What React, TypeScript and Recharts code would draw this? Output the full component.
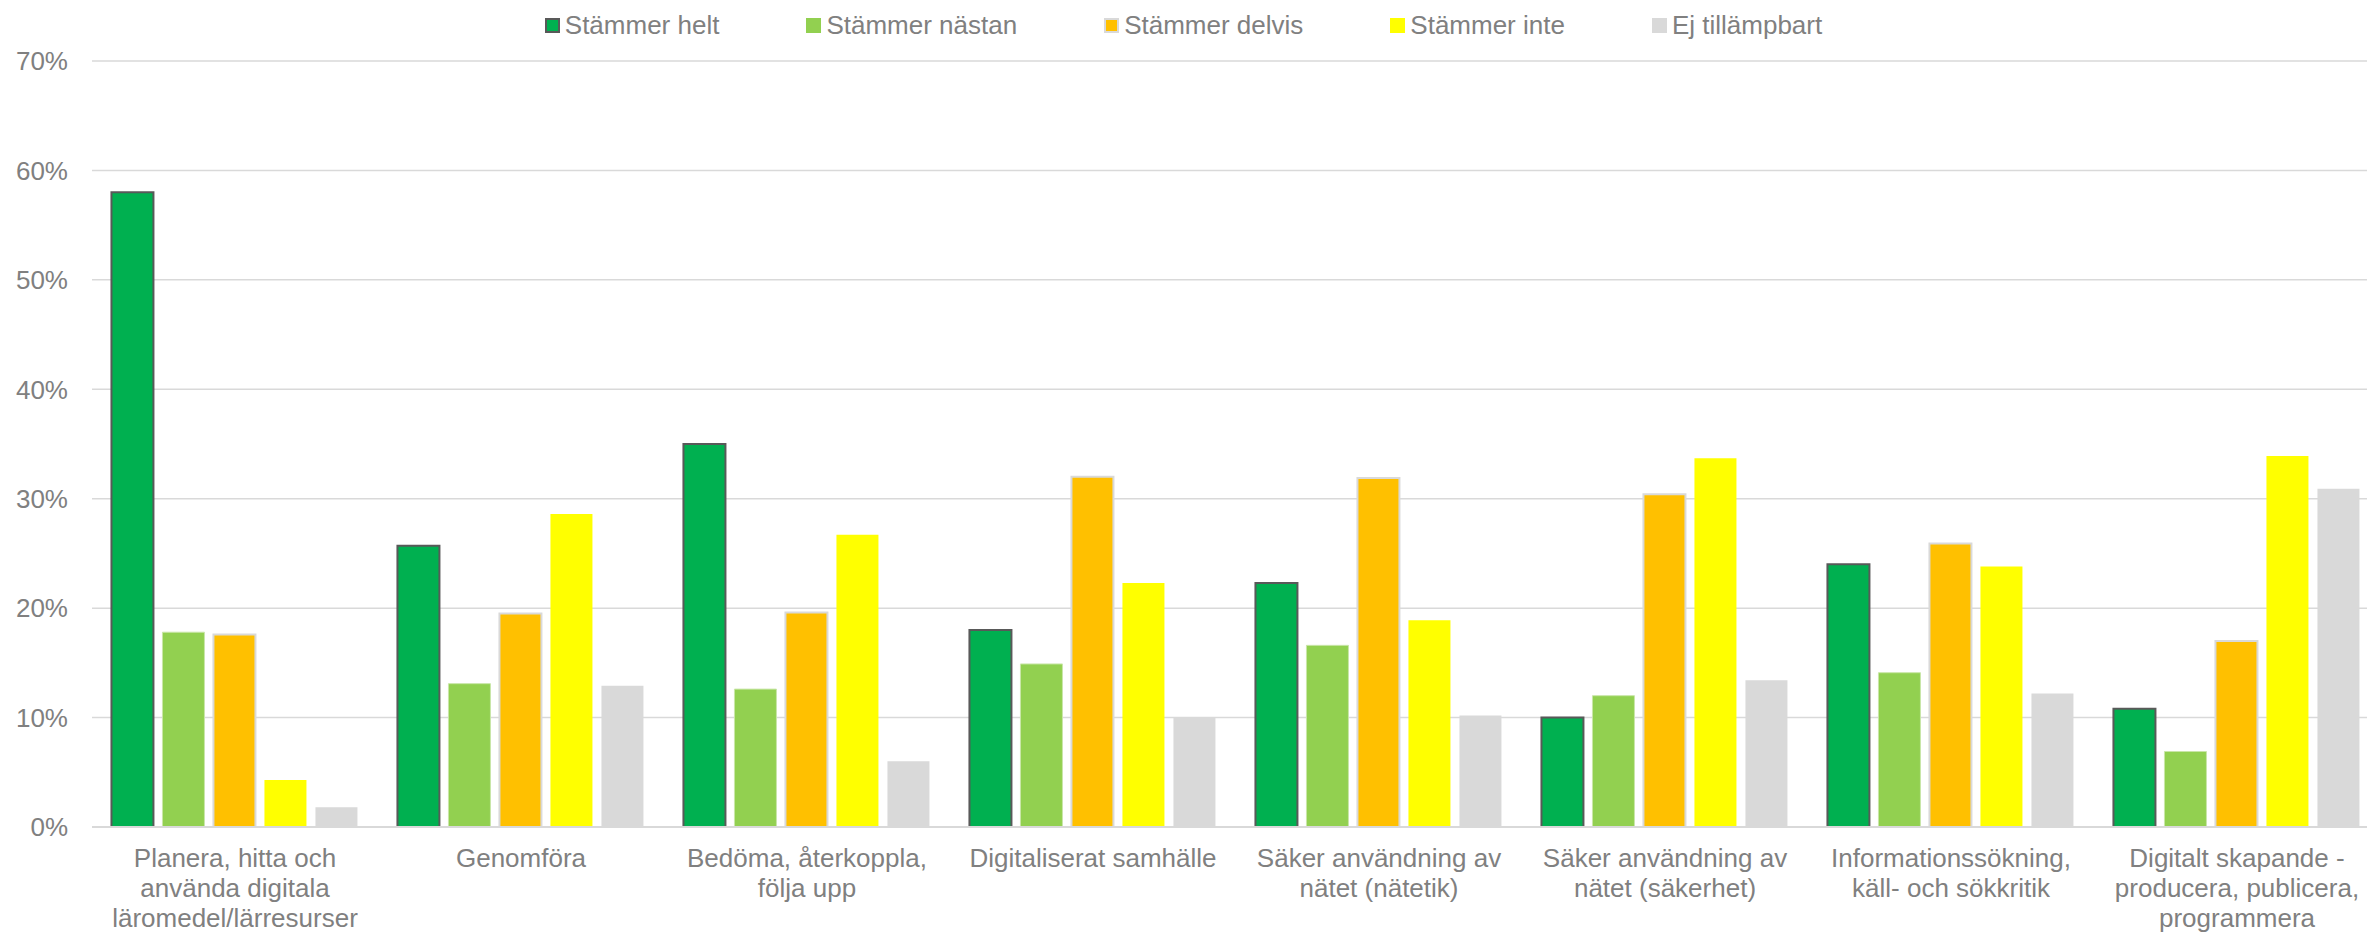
import { Bar, BarChart, CartesianGrid, Legend, XAxis, YAxis } from "recharts";

const categories = [
  "Planera, hitta och\nanvända digitala\nläromedel/lärresurser",
  "Genomföra",
  "Bedöma, återkoppla,\nfölja upp",
  "Digitaliserat samhälle",
  "Säker användning av\nnätet (nätetik)",
  "Säker användning av\nnätet (säkerhet)",
  "Informationssökning,\nkäll- och sökkritik",
  "Digitalt skapande -\nproducera, publicera,\nprogrammera",
];

const stammerHelt = [58.0, 25.7, 35.0, 18.0, 22.3, 10.0, 24.0, 10.8];
const stammerNastan = [17.8, 13.1, 12.6, 14.9, 16.6, 12.0, 14.1, 6.9];
const stammerDelvis = [17.6, 19.5, 19.6, 32.0, 31.9, 30.4, 25.9, 17.0];
const stammerInte = [4.3, 28.6, 26.7, 22.3, 18.9, 33.7, 23.8, 33.9];
const ejTillampbart = [1.8, 12.9, 6.0, 10.0, 10.2, 13.4, 12.2, 30.9];

const yTicks = [0, 10, 20, 30, 40, 50, 60, 70];

const FONT = '"Liberation Sans", Arial, sans-serif';
const TEXT = "#808080";
const GRID = "#D9D9D9";

const SERIES = [
  { key: "helt", name: "Stämmer helt", fill: "#00B050", stroke: "#595959", strokeWidth: 2 },
  { key: "nastan", name: "Stämmer nästan", fill: "#92D050", stroke: "#C9E6A8", strokeWidth: 1 },
  { key: "delvis", name: "Stämmer delvis", fill: "#FFC000", stroke: "#D9D9D9", strokeWidth: 2 },
  { key: "inte", name: "Stämmer inte", fill: "#FFFF00", stroke: "none", strokeWidth: 0 },
  { key: "ej", name: "Ej tillämpbart", fill: "#D9D9D9", stroke: "none", strokeWidth: 0 },
];

const data = categories.map((name, i) => ({
  name,
  helt: stammerHelt[i],
  nastan: stammerNastan[i],
  delvis: stammerDelvis[i],
  inte: stammerInte[i],
  ej: ejTillampbart[i],
}));

function CategoryTick({ x, y, payload }: any) {
  const lines = String(payload.value).split("\n");
  return (
    <text x={x} y={y} textAnchor="middle" fill={TEXT} fontSize={26} fontFamily={FONT}>
      {lines.map((line, i) => (
        <tspan key={i} x={x} dy={i === 0 ? 40 : 30}>
          {line}
        </tspan>
      ))}
    </text>
  );
}

function LegendContent() {
  return (
    <div
      style={{
        height: 48,
        display: "flex",
        justifyContent: "center",
        alignItems: "center",
        fontFamily: FONT,
        fontSize: 26,
        color: TEXT,
        gap: 87,
      }}
    >
      {SERIES.map((s) => (
        <div key={s.key} style={{ display: "flex", alignItems: "center", paddingTop: 2 }}>
          <span
            style={{
              display: "inline-block",
              width: 15,
              height: 15,
              marginRight: 5,
              boxSizing: "border-box",
              background: s.fill,
              border: s.key === "helt" || s.key === "delvis" ? `2px solid ${s.stroke}` : "none",
            }}
          />
          <span>{s.name}</span>
        </div>
      ))}
    </div>
  );
}

export default function App() {
  return (
    <div style={{ position: "fixed", left: 0, top: 0, width: 2367, height: 933, overflow: "hidden", background: "#fff" }}>
      <BarChart
        width={2380}
        height={933}
        data={data}
        margin={{ top: 13, right: 0, left: 0, bottom: 0 }}
        barCategoryGap="6.8%"
        barGap={9}
      >
        <CartesianGrid stroke={GRID} strokeWidth={1.5} vertical={false} />
        <XAxis
          dataKey="name"
          interval={0}
          height={106}
          tickSize={0}
          tickMargin={0}
          tickLine={false}
          axisLine={{ stroke: GRID, strokeWidth: 2 }}
          tick={<CategoryTick />}
        />
        <YAxis
          width={92}
          domain={[0, 70]}
          ticks={yTicks}
          interval={0}
          tickSize={0}
          tickMargin={24}
          axisLine={false}
          tickLine={false}
          tickFormatter={(v) => `${v}%`}
          tick={{ fill: TEXT, fontSize: 26, fontFamily: FONT }}
        />
        <Legend
          verticalAlign="top"
          align="center"
          content={<LegendContent />}
          wrapperStyle={{ top: 0, left: 0, width: 2367 }}
        />
        {SERIES.map((s) => (
          <Bar
            key={s.key}
            dataKey={s.key}
            name={s.name}
            fill={s.fill}
            stroke={s.stroke}
            strokeWidth={s.strokeWidth}
            isAnimationActive={false}
          />
        ))}
      </BarChart>
    </div>
  );
}
